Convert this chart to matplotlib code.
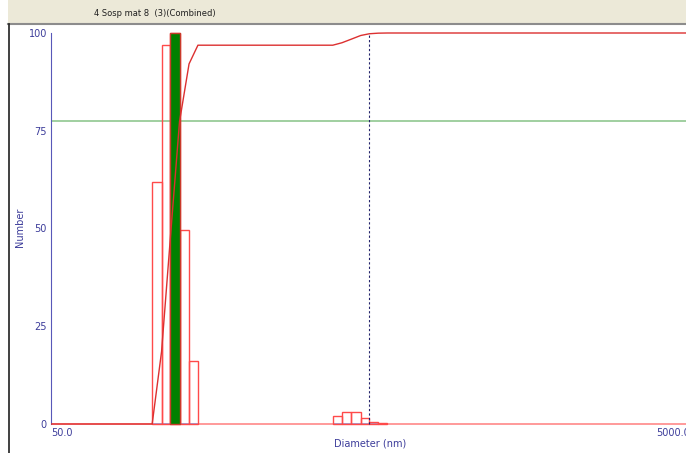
import numpy as np
import matplotlib
matplotlib.use("Agg")
import matplotlib.pyplot as plt
from matplotlib.patches import Rectangle
from matplotlib.lines import Line2D

# size distribution bins (nm) and number counts
main_edges = [108, 116, 124, 133, 143, 153]
main_counts = [62.0, 97.0, 100.0, 49.5, 16.0]
small_edges = [427, 458, 492, 528, 564, 603, 647]
small_counts = [2.1, 3.1, 3.1, 1.5, 0.5, 0.15]
peak_bin = 2            # highlighted bin in the main peak
cursor_diam = 564       # vertical cursor (nm)
cursor_level = 77.5     # horizontal cursor
x_ticks = [50.0, 5000.0]
y_ticks = [0, 25, 50, 75, 100]
title = "4 Sosp mat 8  (3)(Combined)"

W, H = 686, 453
fig = plt.figure(figsize=(W / 100, H / 100), dpi=100)
fig.patch.set_facecolor("white")

# window header strip
fig.patches.append(Rectangle((8 / W, 1 - 23 / H), 1, 23 / H, transform=fig.transFigure,
                             facecolor="#ECE9D8", edgecolor="none", zorder=0))
fig.lines.append(Line2D([8 / W, 1], [1 - 24 / H, 1 - 24 / H], transform=fig.transFigure,
                        color="#8C8C8C", lw=1.5))
fig.lines.append(Line2D([8.5 / W, 8.5 / W], [0, 1 - 24 / H], transform=fig.transFigure,
                        color="#202020", lw=1.2))
fig.text(155 / W, 1 - 13 / H, title, ha="center", va="center", fontsize=6, color="#202020")

# plot area in pixels: x 51..686, y 24..440 (0 at y=424, 100 at y=33)
px_per_unit = (424 - 33) / 100
ax = fig.add_axes([51 / W, (H - 440) / H, (W - 51) / W, (440 - 24) / H])
ax.set_facecolor("none")
ax.set_xscale("log")
px_per_dec = (656 - 51) / 2.0
ax.set_xlim(50, 50 * 10 ** ((W - 51) / px_per_dec))
ax.set_ylim(-(440 - 424) / px_per_unit, (424 - 24) / px_per_unit)

for s in ["top", "right", "bottom"]:
    ax.spines[s].set_visible(False)
ax.spines["left"].set_color("#5858B8")
ax.spines["left"].set_bounds(0, 100)
ax.set_xticks([])
ax.minorticks_off()
ax.set_yticks(y_ticks)
ax.set_yticklabels([str(v) for v in y_ticks])
ax.tick_params(axis="y", length=0, pad=3, labelsize=7, labelcolor="#3C3C9A")

# cumulative curve
all_counts = np.array(main_counts + small_counts)
cum = np.cumsum(all_counts) / all_counts.sum() * 100
n_main = len(main_counts)
xs = [50, main_edges[0]] + main_edges[1:] + [small_edges[0]] + small_edges[1:] + [ax.get_xlim()[1]]
ys = [0, 0] + list(cum[:n_main]) + [cum[n_main - 1]] + list(cum[n_main:]) + [100]

# baseline
ax.axhline(0, color="#FF9A9A", lw=1.4, zorder=1)
ax.hlines(0, main_edges[0], main_edges[-1], color="#9A9AD8", lw=1.2, zorder=2)
ax.hlines(0, small_edges[0], small_edges[-1], color="#9A9AD8", lw=1.2, zorder=2)

# histogram bars
for edges, counts in [(main_edges, main_counts), (small_edges, small_counts)]:
    left = np.array(edges[:-1])
    widths = np.diff(edges)
    ax.bar(left, counts, width=widths, align="edge", facecolor="none",
           edgecolor="#FF4A4A", lw=1.0, zorder=3)
ax.bar(main_edges[peak_bin], main_counts[peak_bin],
       width=main_edges[peak_bin + 1] - main_edges[peak_bin], align="edge",
       facecolor="#008000", edgecolor="#C83A2A", lw=1.0, zorder=4)

ax.axhline(cursor_level, color="#98CC98", lw=1.3, zorder=2)
ax.plot(xs, ys, color="#DC3030", lw=1.0, zorder=5)
ax.vlines(cursor_diam, 0, 100, colors="#22226A", linestyles=(0, (2, 2)), lw=0.8, zorder=6)

# x labels (the upper one runs off the window edge)
for v in x_ticks:
    ax.text(v, -1.0, f"{v:.1f}", ha="left", va="top", fontsize=7, color="#3C3C9A", clip_on=False)
fig.text(370 / W, 9 / H, "Diameter (nm)", ha="center", va="center", fontsize=7, color="#3C3C9A")
fig.text(20 / W, 1 - 227 / H, "Number", rotation=90, ha="center", va="center",
         fontsize=7, color="#3C3C9A")

fig.savefig("out.png", dpi=100)
